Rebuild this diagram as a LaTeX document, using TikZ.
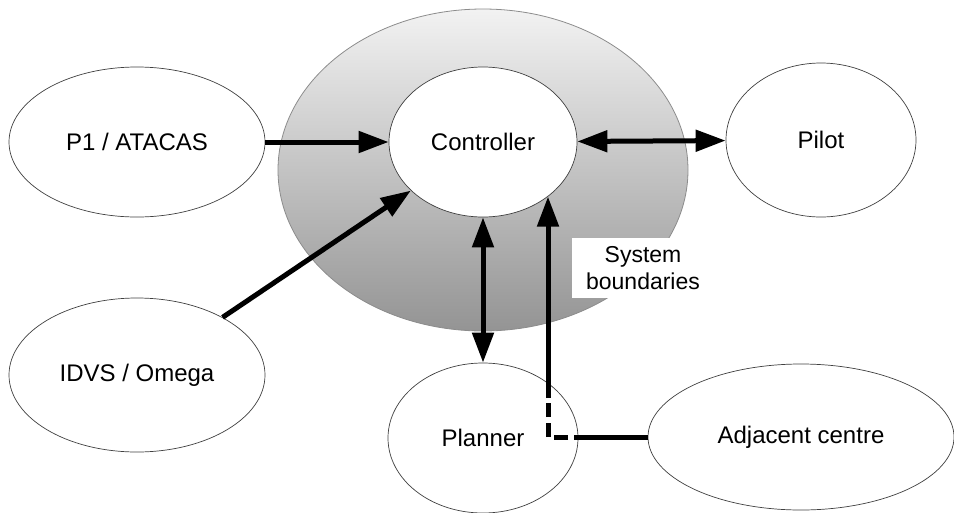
\documentclass[tikz,border=0pt]{standalone}
\usepackage{fontspec}
\setmainfont{Liberation Sans}
\usetikzlibrary{shapes.geometric,arrows.meta}
\begin{document}
\begin{tikzpicture}[x=1pt,y=-1pt,
  actor/.style={ellipse,draw=black!75,line width=0.7pt,fill=white,inner sep=0pt,font=\fontsize{24}{28}\selectfont},
  link/.style={line width=5pt,black},
  tip/.style={-{Triangle[length=30pt,width=21pt]}},
  tips/.style={{Triangle[length=30pt,width=21pt]}-{Triangle[length=30pt,width=21pt]}}]
\useasboundingbox (0,0) rectangle (954,512);
% system boundary
\shade[top color=black!5,bottom color=black!42,draw=black!45,line width=0.8pt] (483,170) ellipse [x radius=205,y radius=161];
\node[fill=white,inner sep=0pt,minimum width=142pt,minimum height=60pt,align=center,font=\fontsize{23}{27}\selectfont] (lbl) at (643,268) {System\\boundaries};
% actors
\node[actor,minimum width=188pt,minimum height=150pt] (ctrl) at (483,142) {Controller};
\node[actor,minimum width=256pt,minimum height=150pt] (p1) at (137,142) {P1 / ATACAS};
\node[actor,minimum width=256pt,minimum height=154pt] (idvs) at (137,375) {IDVS / Omega};
\node[actor,minimum width=190pt,minimum height=154pt] (pilot) at (821,140) {Pilot};
\node[actor,minimum width=190pt,minimum height=150pt] (plan) at (483,438) {Planner};
\node[actor,minimum width=306pt,minimum height=146pt] (adj) at (801,437) {Adjacent centre};
% connectors
\draw[link,tip] (p1) -- (ctrl);
\draw[link,tips] (ctrl) -- (pilot);
\draw[link,tip] (idvs) -- (ctrl);
\draw[link,tips] (ctrl.south) -- (plan.north);
\coordinate (c1) at (588,437);
\coordinate (corner) at (548,437);
\coordinate (c2) at (548,398);
\draw[link] (adj.west) -- (c1);
\draw[link,dash pattern=on 14pt off 6pt] (c1) -- (corner) -- (c2);
\draw[link,tip] (c2) -- (c2 |- ctrl.-40.7);
\end{tikzpicture}
\end{document}
